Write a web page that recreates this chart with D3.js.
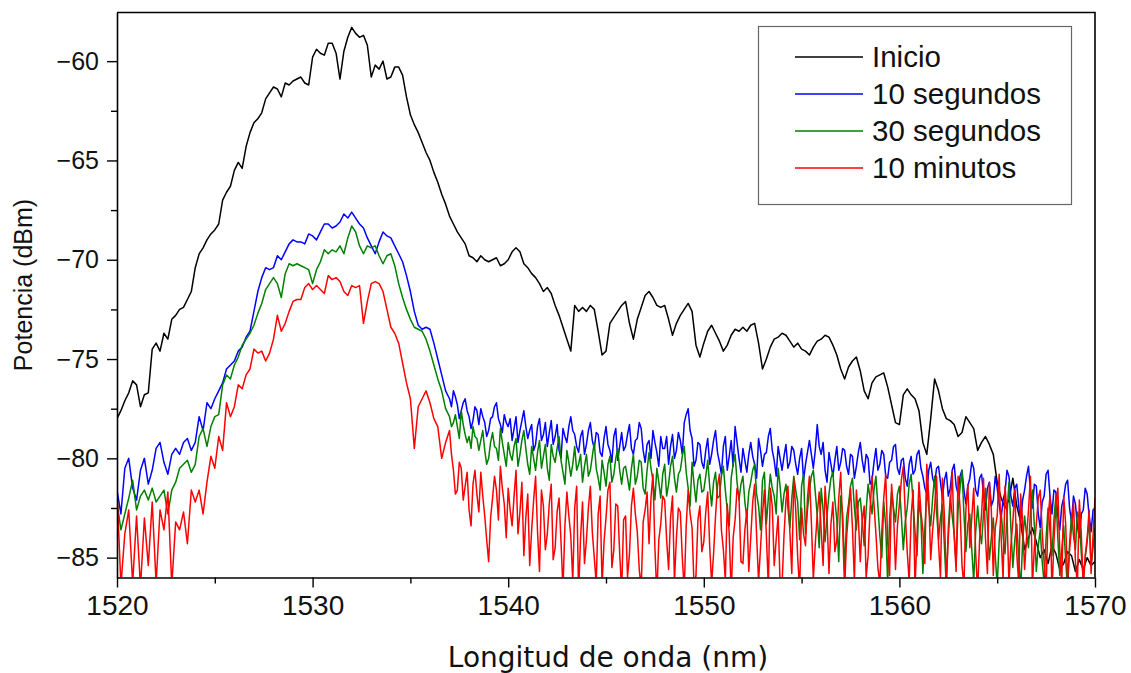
<!DOCTYPE html>
<html><head><meta charset="utf-8">
<script src="https://cdn.jsdelivr.net/npm/d3@7"></script>
<style>body{margin:0;background:#fff} svg{display:block}</style>
</head><body><svg id="c" width="1131" height="673"></svg>
<script>
// Black curve sampled every 0.2 nm from 1520 nm
const inicioStart = 1520, inicioStep = 0.2;
// Coloured curves: every 0.2 nm from 1520 to 1536.8 nm (85 samples),
// then every 0.1 nm from 1537 to 1570 nm (noisy tail)
const headStart = 1520, headStep = 0.2, headCount = 85;
const tailStart = 1537, tailStep = 0.1;

// Inicio (black), dBm
const inicio = [
-78.0,-77.6,-77.1,-76.7,-76.1,-76.3,-77.4,-76.8,-76.7,-74.5,
-74.2,-74.6,-73.7,-74.0,-73.0,-72.8,-72.5,-72.4,-72.0,-71.6,
-70.4,-69.7,-69.4,-69.0,-68.7,-68.5,-68.2,-67.0,-66.6,-66.3,
-65.5,-65.1,-65.4,-64.3,-63.6,-63.1,-62.9,-62.6,-61.9,-61.6,
-61.3,-61.4,-61.8,-61.1,-61.2,-61.0,-60.9,-60.8,-61.1,-61.2,
-59.8,-59.4,-59.6,-59.7,-59.1,-59.1,-59.6,-60.9,-59.5,-58.8,
-58.3,-58.6,-58.8,-58.7,-59.2,-60.8,-60.2,-60.4,-60.0,-60.9,
-60.8,-60.3,-60.3,-60.7,-61.8,-62.7,-63.2,-63.6,-64.1,-64.6,
-65.0,-65.6,-66.1,-66.7,-67.2,-67.8,-68.2,-68.6,-68.9,-69.2,
-69.8,-69.9,-70.1,-69.8,-70.0,-70.1,-70.0,-69.9,-70.3,-70.2,
-70.0,-69.6,-69.4,-69.6,-70.2,-70.4,-70.7,-70.9,-71.2,-71.6,
-71.4,-71.7,-72.3,-72.8,-73.4,-74.0,-74.6,-72.3,-72.6,-72.4,
-72.6,-72.3,-72.5,-73.6,-74.8,-74.6,-73.2,-72.9,-72.6,-72.3,
-72.1,-73.2,-74.0,-73.0,-72.4,-71.8,-71.6,-71.9,-72.3,-72.4,
-72.3,-73.0,-73.8,-73.2,-72.8,-72.5,-72.2,-72.6,-74.3,-74.9,
-74.2,-73.6,-73.3,-73.7,-74.1,-74.6,-74.3,-73.8,-73.5,-73.6,
-73.4,-73.6,-73.3,-73.2,-74.2,-75.5,-75.0,-74.4,-74.0,-73.9,
-73.7,-73.8,-74.1,-74.4,-74.2,-74.5,-74.6,-74.8,-74.4,-74.1,
-74.0,-73.8,-73.9,-74.3,-74.8,-75.5,-76.0,-75.4,-75.1,-74.9,
-75.6,-76.6,-77.0,-76.2,-75.9,-75.8,-75.7,-76.4,-77.3,-78.2,
-78.3,-76.8,-76.5,-76.8,-77.0,-77.6,-79.2,-79.8,-78.0,-76.0,
-76.6,-77.5,-78.0,-78.1,-78.3,-78.9,-78.7,-77.9,-78.2,-78.5,
-79.6,-79.2,-78.9,-79.3,-79.8,-81.2,-82.0,-82.5,-82.1,-81.0,
-82.4,-83.2,-84.6,-84.0,-83.5,-84.2,-85.0,-84.6,-85.3,-84.4,
-84.8,-85.6,-85.3,-84.7,-84.9,-85.7,-85.1,-85.6,-85.0,-85.4,
-85.2];

// 10 segundos (blue)
const seg10 = [
-81.6,-82.8,-80.5,-80.0,-81.5,-82.1,-80.6,-80.0,-81.3,-80.6,
-79.5,-79.2,-80.2,-80.8,-79.8,-79.5,-79.8,-79.2,-79.0,-79.6,
-79.2,-77.9,-78.6,-77.2,-77.5,-77.0,-76.6,-76.2,-75.5,-75.3,
-75.1,-74.6,-74.4,-73.9,-73.6,-72.6,-71.6,-70.9,-70.4,-70.5,
-70.4,-69.8,-70.0,-69.6,-69.2,-69.0,-69.1,-69.1,-69.2,-68.7,
-68.8,-69.0,-68.6,-68.2,-68.2,-68.4,-68.3,-68.1,-67.7,-67.9,
-67.6,-67.9,-68.2,-68.4,-68.9,-69.3,-69.7,-69.1,-68.6,-68.8,
-68.9,-69.3,-69.7,-70.1,-70.8,-71.6,-72.6,-73.3,-73.5,-73.4,
-73.5,-74.2,-75.0,-75.8,-76.6,
// tail, 0.1 nm
-77.0,-77.4,-76.6,-76.9,-77.3,-78.0,-77.6,-77.2,-77.0,-77.6,
-77.9,-78.5,-78.1,-77.4,-77.6,-78.3,-77.5,-77.9,-78.2,-78.9,-78.6,-78.0,-77.9,-77.4,-77.2,-78.0,-78.3,-78.7,-77.8,-78.2,
-78.4,-78.0,-79.1,-78.5,-77.9,-79.2,-78.6,-78.1,-77.6,-78.4,-79.0,-78.6,-78.3,-79.6,-79.3,-78.4,-78.0,-79.1,-78.8,-78.2,
-79.4,-78.7,-78.1,-79.3,-78.9,-78.3,-79.6,-80.0,-78.5,-78.9,-79.2,-78.4,-77.9,-78.6,-78.8,-79.4,-79.7,-78.9,-78.6,-79.8,
-79.3,-78.6,-78.2,-79.1,-79.5,-78.7,-78.8,-79.7,-79.9,-79.0,-78.4,-79.3,-79.6,-80.2,-78.9,-78.5,-80.1,-79.4,-78.7,-79.6,
-79.4,-78.8,-78.3,-79.5,-79.8,-79.1,-79.0,-78.2,-78.5,-79.6,-80.2,-79.3,-79.1,-80.0,-78.6,-79.2,-79.7,-80.4,-78.9,-79.5,
-79.5,-78.9,-80.3,-79.4,-78.8,-80.0,-79.6,-78.7,-79.1,-79.8,-78.2,-77.8,-77.5,-78.6,-79.0,-80.4,-80.1,-79.2,-79.3,-80.2,
-80.5,-79.6,-79.0,-80.3,-79.8,-79.1,-78.6,-79.7,-80.2,-80.8,-79.4,-78.9,-80.6,-79.9,-79.1,-80.4,-78.4,-79.2,-80.0,-80.7,
-79.5,-80.1,-80.7,-79.8,-79.2,-79.9,-80.3,-81.0,-79.0,-79.6,-80.4,-79.8,-79.7,-78.9,-78.5,-79.6,-80.1,-80.9,-79.4,-80.0,
-80.6,-79.9,-79.3,-80.5,-80.2,-79.4,-79.6,-80.3,-80.8,-80.0,-79.5,-81.1,-80.3,-79.7,-79.1,-79.8,-80.5,-79.6,-78.3,-79.4,
-79.8,-79.2,-80.6,-81.2,-79.7,-80.3,-80.9,-80.1,-79.4,-80.6,-80.2,-79.5,-79.6,-80.4,-80.8,-79.8,-79.9,-81.0,-80.4,-79.7,
-79.2,-80.1,-80.7,-79.8,-80.0,-81.3,-81.1,-80.2,-79.5,-80.6,-80.3,-79.6,-79.8,-80.9,-81.0,-80.2,-80.1,-79.4,-79.3,-80.5,
-80.8,-80.1,-80.0,-81.0,-81.4,-80.3,-79.9,-80.8,-80.6,-79.8,-79.6,-80.5,-80.9,-81.5,-81.8,-80.6,-80.2,-81.0,-81.3,-80.5,
-80.4,-81.2,-82.0,-81.1,-80.7,-81.9,-81.5,-80.6,-80.3,-81.4,-81.8,-80.9,-80.6,-81.6,-82.3,-81.4,-81.0,-80.2,-80.5,-81.6,
-81.9,-81.0,-80.8,-81.8,-82.6,-81.5,-81.2,-82.4,-82.1,-80.9,-81.5,-82.3,-83.0,-82.1,-81.7,-80.6,-80.9,-81.9,-82.4,-81.5,
-81.3,-82.4,-83.2,-82.1,-81.6,-80.9,-80.4,-81.7,-82.5,-81.3,-81.4,-82.8,-83.5,-82.2,-81.9,-80.8,-80.6,-81.9,-82.8,-81.6,
-81.7,-82.9,-83.6,-82.4,-82.0,-81.3,-81.1,-82.5,-83.2,-81.9,-82.3,-83.4,-84.0,-82.8,-82.6,-81.5,-81.8,-82.9,-83.7,-82.6,
-82.5];

// 30 segundos (green)
const seg30 = [
-82.2,-83.6,-82.8,-82.0,-81.1,-82.6,-81.9,-81.6,-82.1,-81.5,
-82.2,-81.9,-81.6,-82.8,-81.6,-81.2,-80.5,-80.3,-80.1,-80.7,
-80.3,-78.9,-78.5,-79.4,-78.4,-77.9,-77.8,-76.3,-75.8,-76.0,
-75.3,-74.9,-74.3,-74.0,-73.7,-73.3,-72.7,-72.2,-71.5,-71.2,
-70.9,-71.2,-71.9,-70.7,-70.2,-70.3,-70.2,-70.3,-70.4,-70.5,
-71.2,-70.5,-70.1,-69.5,-69.7,-69.5,-69.6,-69.3,-69.7,-68.9,
-68.3,-68.6,-69.3,-69.7,-69.3,-69.4,-69.3,-69.8,-70.2,-69.8,
-69.7,-70.3,-71.2,-71.9,-72.5,-73.0,-73.4,-73.5,-73.6,-74.0,
-74.6,-75.3,-76.0,-76.6,-77.5,
// tail, 0.1 nm
-77.9,-78.4,-78.2,-77.8,-78.4,-79.0,-77.6,-78.3,-78.8,-79.2,
-78.9,-79.5,-78.4,-78.9,-79.0,-79.6,-79.1,-78.6,-79.6,-80.3,-80.0,-79.2,-78.7,-79.4,-79.5,-80.1,-78.5,-79.2,-79.8,-80.4,
-79.2,-79.8,-80.1,-79.4,-79.0,-80.4,-79.8,-79.1,-78.6,-79.5,-80.3,-80.8,-79.4,-80.0,-80.6,-79.7,-79.1,-80.5,-79.9,-79.3,
-80.5,-81.1,-79.3,-79.9,-80.2,-79.5,-78.9,-80.1,-80.7,-81.3,-79.6,-80.2,-80.9,-80.3,-79.4,-80.6,-80.3,-79.8,-81.2,-80.4,
-79.8,-80.9,-80.6,-79.9,-79.2,-80.5,-81.0,-81.6,-80.1,-80.7,-81.4,-80.3,-79.9,-81.2,-80.8,-80.0,-79.5,-80.6,-81.3,-80.5,
-80.4,-81.0,-81.6,-80.5,-79.8,-81.3,-80.9,-80.1,-80.2,-81.5,-81.8,-80.6,-79.7,-80.5,-81.1,-82.1,-80.5,-81.2,-82.0,-80.8,
-80.3,-81.9,-81.3,-80.4,-79.9,-81.0,-81.7,-80.8,-80.6,-79.9,-79.4,-80.7,-81.5,-82.4,-80.2,-81.3,-82.2,-81.1,-80.8,-81.7,
-81.6,-80.9,-80.1,-81.4,-82.4,-81.2,-80.7,-82.0,-81.9,-80.9,-80.4,-81.6,-82.6,-83.4,-81.0,-80.3,-79.8,-81.2,-82.1,-81.3,
-80.9,-82.2,-83.0,-81.7,-81.2,-80.6,-80.3,-81.8,-82.4,-83.6,-81.1,-80.7,-83.3,-82.0,-80.8,-81.5,-81.9,-82.8,-80.5,-81.4,
-82.7,-81.8,-81.3,-82.5,-83.5,-82.0,-80.9,-81.6,-82.2,-84.1,-81.4,-80.8,-83.8,-82.6,-81.6,-80.9,-80.6,-81.7,-82.9,-84.5,
-81.5,-82.6,-84.2,-82.9,-81.8,-81.0,-80.7,-82.1,-83.1,-85.2,-81.9,-82.8,-85.6,-83.0,-82.3,-81.4,-81.0,-82.5,-83.6,-82.2,
-82.0,-83.1,-84.4,-82.6,-81.3,-82.0,-82.8,-81.6,-80.9,-82.4,-83.9,-85.0,-82.2,-83.4,-86.3,-83.0,-81.7,-82.5,-83.2,-81.8,
-81.4,-82.9,-84.6,-83.2,-82.5,-81.3,-80.8,-82.2,-83.7,-84.9,-82.1,-83.0,-85.8,-83.6,-81.6,-82.5,-83.4,-82.0,-80.9,-82.7,
-84.1,-83.0,-82.3,-84.4,-86.5,-83.5,-81.9,-82.9,-83.8,-85.3,-82.6,-81.5,-80.6,-82.8,-84.7,-83.3,-82.8,-84.6,-86.2,-83.7,
-82.4,-83.6,-84.3,-82.8,-81.5,-83.2,-85.1,-84.0,-83.0,-84.9,-86.4,-84.2,-82.7,-83.9,-84.8,-82.9,-81.2,-83.5,-85.5,-84.1,
-83.3,-85.0,-86.6,-84.2,-82.9,-83.8,-84.5,-82.7,-81.6,-83.4,-85.7,-84.4,-83.6,-85.2,-86.3,-84.0,-82.5,-83.7,-84.9,-83.1,
-81.9,-84.0,-85.9,-84.6,-83.4,-85.1,-86.7,-84.3,-82.8,-83.9,-84.6,-82.7,-83.0,-84.8,-86.1,-85.0,-84.2,-83.1,-85.4,-84.5,
-83.5];

// 10 minutos (red)
const min10 = [
-81.6,-86.4,-83.8,-82.6,-86.3,-82.9,-86.5,-83.0,-85.4,-82.2,
-86.3,-82.6,-83.6,-81.7,-86.4,-83.2,-83.6,-82.7,-84.3,-81.6,
-82.2,-81.6,-82.8,-81.2,-79.9,-80.5,-78.9,-79.6,-77.2,-77.9,
-77.4,-76.3,-76.5,-75.8,-75.5,-74.5,-74.7,-74.6,-75.1,-74.7,
-74.0,-72.8,-73.6,-73.2,-72.6,-72.1,-72.0,-72.0,-71.4,-71.2,
-71.5,-71.3,-71.5,-71.7,-70.8,-71.0,-70.9,-71.1,-71.6,-71.8,
-71.3,-71.4,-71.3,-73.2,-72.1,-71.2,-71.1,-71.2,-71.6,-72.5,
-73.4,-73.7,-74.2,-75.2,-76.2,-77.0,-79.5,-77.4,-77.0,-76.6,
-77.2,-78.0,-78.4,-80.0,-79.2,
// tail, 0.1 nm
-78.6,-79.8,-80.6,-81.8,-81.6,-80.2,-80.5,-82.1,-81.4,-80.7,
-82.6,-83.4,-81.3,-80.6,-81.8,-82.7,-80.7,-81.9,-82.9,-84.1,-85.2,-83.0,-82.0,-80.9,-81.6,-83.1,-80.4,-81.5,-82.3,-84.0,
-81.5,-82.6,-83.4,-81.9,-80.6,-83.8,-82.7,-81.2,-84.9,-83.0,-81.8,-85.4,-83.6,-82.1,-80.9,-83.7,-85.7,-81.6,-82.4,-84.6,
-83.8,-82.3,-81.3,-85.1,-84.5,-82.7,-82.0,-84.2,-86.6,-83.4,-81.7,-82.9,-83.9,-86.2,-82.5,-81.4,-86.8,-84.0,-82.2,-85.3,
-84.1,-82.5,-81.4,-83.7,-85.0,-86.3,-82.8,-81.9,-86.4,-84.2,-83.0,-81.6,-81.2,-85.5,-84.6,-82.3,-82.4,-84.8,-86.7,-83.1,
-82.9,-86.0,-84.8,-82.4,-81.5,-82.8,-83.7,-85.6,-86.5,-83.2,-82.6,-81.7,-84.3,-82.0,-80.8,-84.5,-86.9,-84.1,-83.3,-81.9,
-82.1,-84.1,-85.6,-83.0,-81.9,-86.2,-84.0,-82.5,-82.7,-85.0,-86.6,-83.4,-81.6,-82.8,-83.5,-86.4,-85.9,-83.1,-82.4,-84.7,
-84.2,-82.7,-81.7,-84.4,-86.3,-84.8,-82.9,-81.4,-80.8,-83.6,-84.6,-86.1,-82.3,-83.8,-86.8,-84.0,-83.1,-81.5,-81.9,-85.2,
-85.3,-83.6,-82.6,-85.7,-84.0,-82.2,-81.3,-83.9,-86.2,-84.5,-82.8,-81.6,-83.9,-86.5,-81.5,-82.4,-85.4,-84.1,-82.9,-86.3,
-86.4,-83.9,-82.1,-81.4,-83.7,-85.8,-81.0,-82.6,-85.0,-86.6,-82.5,-83.8,-84.4,-82.0,-80.9,-83.2,-86.1,-84.3,-82.8,-81.7,
-83.6,-85.4,-81.4,-82.9,-85.8,-83.3,-82.2,-84.7,-84.1,-82.0,-80.7,-83.5,-86.6,-84.0,-82.7,-81.5,-83.5,-86.2,-81.6,-83.0,
-85.2,-83.1,-82.4,-86.0,-84.9,-82.6,-80.9,-82.3,-83.8,-85.5,-86.3,-83.7,-82.0,-80.8,-84.2,-85.9,-81.3,-82.7,-85.6,-83.4,
-82.3,-81.1,-80.4,-82.8,-84.7,-86.2,-82.9,-81.6,-86.5,-83.9,-81.2,-82.7,-83.6,-85.3,-80.3,-81.9,-85.1,-83.6,-82.5,-80.9,
-84.3,-86.0,-81.0,-82.9,-86.2,-84.0,-82.4,-80.7,-83.9,-85.7,-80.9,-82.5,-85.4,-86.4,-82.6,-81.3,-84.5,-83.0,-81.5,-84.8,
-86.7,-84.1,-82.8,-81.0,-84.0,-85.8,-81.2,-82.6,-85.9,-83.5,-82.9,-80.8,-83.9,-86.1,-81.4,-82.8,-86.3,-84.4,-83.2,-81.6,
-84.8,-86.3,-81.8,-83.2,-85.6,-84.0,-82.6,-80.9,-86.4,-84.5,-83.3,-82.0,-81.6,-83.7,-85.3,-86.6,-83.0,-81.9,-86.8,-84.2,
-82.4,-81.5,-84.7,-86.3,-81.9,-83.3,-86.1,-84.6,-83.5,-82.2,-85.2,-86.4,-82.1,-83.8,-86.5,-84.9,-84.0,-82.6,-85.8,-83.9,
-82.0];

const seriesNames = ["Inicio", "10 segundos", "30 segundos", "10 minutos"];
const seriesColors = ["#000000", "#0000ff", "#008000", "#ff0000"];
const xTicks = [1520, 1530, 1540, 1550, 1560, 1570];
const xMinorTicks = [1525, 1535, 1545, 1555, 1565];
const yTicks = [-85, -80, -75, -70, -65, -60];
const yMinorTicks = [-82.5, -77.5, -72.5, -67.5, -62.5];
const xDomain = [1520, 1570];
const yDomain = [-86, -57.55];
const xLabel = "Longitud de onda (nm)";
const yLabel = "Potencia (dBm)";

// wavelength of each sample
const wlInicio = i => inicioStart + i * inicioStep;
const wlColour = i => i < headCount ? headStart + i * headStep : tailStart + (i - headCount) * tailStep;
const allSeries = [
  { v: inicio, wl: wlInicio },
  { v: seg10, wl: wlColour },
  { v: seg30, wl: wlColour },
  { v: min10, wl: wlColour }
];

const svg = d3.select("#c");
const L = 117, R = 1095, T = 12.5, B = 577.5;
const x = d3.scaleLinear().domain(xDomain).range([L, R]);
const y = d3.scaleLinear().domain(yDomain).range([B, T]);

svg.append("defs").append("clipPath").attr("id", "clip")
  .append("rect").attr("x", L).attr("y", T).attr("width", R - L).attr("height", B - T);

const plot = svg.append("g").attr("clip-path", "url(#clip)");
allSeries.forEach((s, k) => {
  const line = d3.line().x((d, i) => x(s.wl(i))).y(d => y(d));
  plot.append("path").datum(s.v)
    .attr("d", line)
    .attr("fill", "none")
    .attr("stroke", seriesColors[k])
    .attr("stroke-width", 1.5)
    .attr("stroke-linejoin", "round");
});

// frame top & right
svg.append("path")
  .attr("d", `M${L},${T}H${R}V${B}`)
  .attr("fill", "none").attr("stroke", "#000").attr("stroke-width", 1.6);

const fontTick = "'Liberation Sans', Arial, sans-serif";

// bottom axis
const xAxis = svg.append("g").attr("transform", `translate(0,${B})`)
  .call(d3.axisBottom(x).tickValues(xTicks).tickSize(10).tickSizeOuter(0).tickPadding(8)
    .tickFormat(d3.format("d")));
svg.append("g").attr("transform", `translate(0,${B})`)
  .call(d3.axisBottom(x).tickValues(xMinorTicks).tickSize(6).tickSizeOuter(0).tickFormat(""))
  .select(".domain").remove();
xAxis.selectAll("text").attr("font-size", 28).attr("font-family", fontTick).attr("fill", "#111");

// left axis
const yAxis = svg.append("g").attr("transform", `translate(${L},0)`)
  .call(d3.axisLeft(y).tickValues(yTicks).tickSize(10).tickSizeOuter(0).tickPadding(8)
    .tickFormat(d3.format("d")));
svg.append("g").attr("transform", `translate(${L},0)`)
  .call(d3.axisLeft(y).tickValues(yMinorTicks).tickSize(6).tickSizeOuter(0).tickFormat(""))
  .select(".domain").remove();
yAxis.selectAll("text").attr("font-size", 25).attr("font-family", fontTick).attr("fill", "#111");

svg.selectAll(".domain").attr("stroke-width", 1.6);
svg.selectAll(".tick line").attr("stroke-width", 1.4);

// axis titles
svg.append("text").attr("x", 608).attr("y", 667)
  .attr("text-anchor", "middle").attr("font-size", 28)
  .attr("font-family", "'DejaVu Sans', Verdana, sans-serif").attr("fill", "#111")
  .text(xLabel);
svg.append("text").attr("transform", "translate(32,285) rotate(-90)")
  .attr("text-anchor", "middle").attr("font-size", 25)
  .attr("font-family", fontTick).attr("fill", "#111")
  .text(yLabel);

// legend
const lg = svg.append("g");
lg.append("rect").attr("x", 758.5).attr("y", 26.5).attr("width", 313).attr("height", 178)
  .attr("fill", "#fff").attr("stroke", "#666").attr("stroke-width", 1.2);
seriesNames.forEach((n, k) => {
  const ly = 57 + k * 37;
  lg.append("line").attr("x1", 795).attr("x2", 863).attr("y1", ly).attr("y2", ly)
    .attr("stroke", seriesColors[k]).attr("stroke-width", 1.6);
  lg.append("text").attr("x", 872).attr("y", ly + 10)
    .attr("font-size", 29.5).attr("font-family", fontTick)
    .attr("fill", "#111").text(n);
});
</script></body></html>
